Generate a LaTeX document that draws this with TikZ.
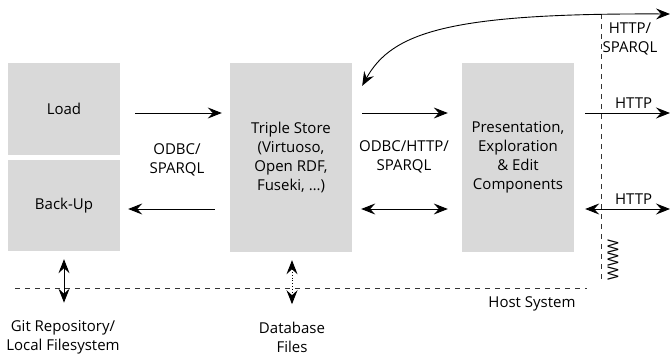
\documentclass[tikz,border=0pt]{standalone}
\usepackage{fontspec}
\setmainfont{Open Sans}
\usetikzlibrary{arrows.meta}

\begin{document}
\begin{tikzpicture}[x=1pt,y=-1pt,
        >={Stealth[length=14pt,width=11pt,inset=5pt]},
        font=\fontsize{15}{19}\selectfont,
        box/.style={fill=black!15,align=center,inner sep=0pt},
        con/.style={line width=0.9pt},
        border/.style={dash pattern=on 5pt off 5pt,line width=0.7pt,black!80}]
    \useasboundingbox (0,0) rectangle (670,356);
    % the four blocks
    \node[box,minimum width=112pt,minimum height=92pt] (load) at (64,109) {Load};
    \node[box,minimum width=112pt,minimum height=91pt] (backup) at (64,205.5) {Back-Up};
    \node[box,minimum width=122pt,minimum height=189pt] (store) at (291,157.5)
        {Triple Store\\(Virtuoso,\\Open RDF,\\Fuseki, \dots)};
    \node[box,minimum width=112pt,minimum height=189pt] (ui) at (518,157.5)
        {Presentation,\\Exploration\\\& Edit\\Components};
    % host system and www borders
    \draw[border] (15,288) -- (587,288);
    \draw[border] (601,14) -- (601,283);
    \node (host) at (532,304) {Host System};
    \node[rotate=90] (www) at (613,260) {WWW};
    % outside world
    \node[align=center] (git) at (63,337) {Git Repository/\\Local Filesystem};
    \node[align=center] (dbfiles) at (292,337) {Database\\Files};
    \coordinate (web0) at (670,14);
    \coordinate (web1) at (670,113);
    \coordinate (web2) at (670,209);
    % connectors
    \draw[con,->,shorten <=15pt,shorten >=8pt] ([yshift=-4pt]load.east) -- ([yshift=-4pt]load.east -| store.west);
    \draw[con,->,shorten <=15pt,shorten >=8pt] ([yshift=-3.5pt]backup.east -| store.west) -- ([yshift=-3.5pt]backup.east);
    \node[align=center] (odbc1) at (177,160) {ODBC/\\SPARQL};
    \draw[con,->,shorten <=10pt,shorten >=14pt] ([yshift=44.5pt]store.east) -- ([yshift=44.5pt]ui.west);
    \draw[con,<->,shorten <=9pt,shorten >=14pt] ([yshift=-51.5pt]store.east) -- ([yshift=-51.5pt]ui.west);
    \node[align=center] (odbc2) at (404,157) {ODBC/HTTP/\\SPARQL};
    \draw[con,->,shorten <=11pt] ([yshift=44.5pt]ui.east) -- (web1) node[pos=0.62,above=1pt] {HTTP};
    \draw[con,<->,shorten <=11pt] ([yshift=-51.5pt]ui.east) -- (web2) node[pos=0.62,above=1pt] {HTTP};
    \draw[con,<->] (web0) .. controls (450,13) and (392,32) .. ([shift={(10,23)}]store.north east);
    \node[align=center] (sparql) at (630,38.5) {HTTP/\\SPARQL};
    \draw[con,<->,shorten <=8pt,shorten >=14pt] (backup.south) -- (backup.south |- git.north);
    \draw[con,<->,dotted,shorten <=8pt,shorten >=14pt] (store.south -| dbfiles) -- (dbfiles.north);
\end{tikzpicture}
\end{document}
